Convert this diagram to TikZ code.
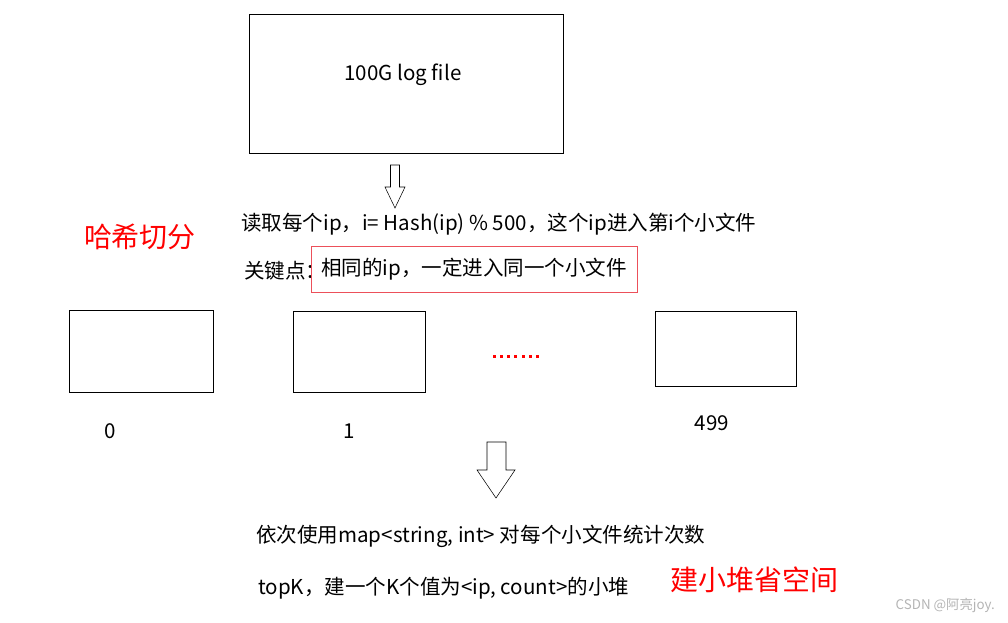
\documentclass[tikz,border=0pt]{standalone}
\usepackage{fontspec}
\newfontfamily\cjk{Noto Sans CJK SC}
\usepackage{tikz}
\usepackage{xcolor}
\definecolor{boxred}{RGB}{236,80,90}
\definecolor{mark}{RGB}{180,180,180}

\begin{document}
\begin{tikzpicture}[x=0.75pt,y=-0.75pt,
    filebox/.style={draw=black, inner sep=0pt},
    txt/.style={font=\cjk\fontsize{15.4}{18}\selectfont, inner sep=0pt},
    redtxt/.style={font=\cjk\fontsize{21}{24}\selectfont, text=red, inner sep=0pt}]
    \useasboundingbox (0,0) rectangle (1008,622);

    \node[filebox, minimum width=235.5pt, minimum height=104.25pt] (log) at (406,83.5) {};
    \node[txt] (logtxt) at (403,75) {100G log file};

    % hollow arrow under the log file
    \draw (390.5,165) -- (399.5,165) -- (399.5,187) -- (405,187) -- (395,208)
          -- (385,187) -- (390.5,187) -- cycle;

    \node[redtxt] (hash) at (140,237) {哈希切分};
    \node[txt, anchor=west] (rule) at (241,224) {读取每个ip，i= Hash(ip) \% 500，这个ip进入第i个小文件};
    \node[txt, anchor=west] (keyhead) at (244,271) {关键点：};
    \node[txt, draw=boxred, minimum width=244.5pt, minimum height=34.5pt] (key) at (474,269)
        {相同的ip，一定进入同一个小文件};

    \node[filebox, minimum width=108pt, minimum height=61.5pt] (b0) at (141,351) {};
    \node[filebox, minimum width=99pt, minimum height=60.75pt] (b1) at (359,351.5) {};
    \node[filebox, minimum width=105.75pt, minimum height=56.25pt] (b499) at (725.5,348.5) {};
    \foreach \i in {0,...,6}
        \fill[red] (492.5+7.3*\i,354.5) rectangle ++(3,3);

    \node[txt] (n0) at (110,431) {0};
    \node[txt] (n1) at (349,431) {1};
    \node[txt] (n499) at (712,423) {499};

    % hollow arrow under the small files
    \draw (487,442) -- (506,442) -- (506,470) -- (515,470) -- (496,498)
          -- (477,470) -- (487,470) -- cycle;

    \node[txt, anchor=west] (count) at (256,536) {依次使用map<string, int> 对每个小文件统计次数};
    \node[txt, anchor=west] (topk) at (258,588) {topK，建一个K个值为<ip, count>的小堆};
    \node[redtxt] (heap) at (754,580) {建小堆省空间};

    \node[font=\cjk\fontsize{10}{12}\selectfont, text=mark, anchor=east, inner sep=0pt] (csdn) at (995,605) {CSDN @阿亮joy.};
\end{tikzpicture}
\end{document}
